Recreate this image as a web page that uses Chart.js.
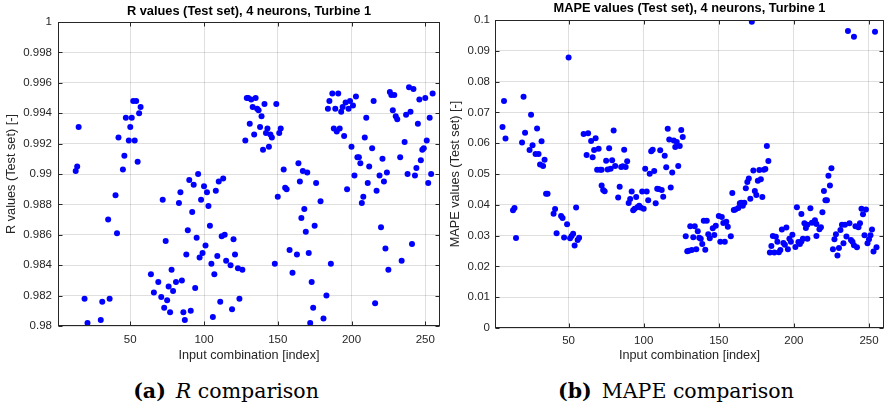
<!DOCTYPE html>
<html>
<head>
<meta charset="utf-8">
<script src="https://cdn.jsdelivr.net/npm/chart.js@4"></script>
<style>
  html, body { margin: 0; padding: 0; background: #fff; }
  #wrap { position: relative; width: 887px; height: 411px; background: #fff; overflow: hidden; }
  canvas { position: absolute; top: 0; }
  #cvR { left: 0; }
  #cvM { left: 443px; }
  .cap {
    position: absolute; top: 379px; line-height: 24px; white-space: nowrap;
    font-family: "DejaVu Serif", serif; font-size: 20.5px; color: #000;
    transform: translateX(-50%);
  }
  .cap b { font-weight: bold; margin-right: 10px; }
</style>
</head>
<body>
<div id="wrap">
  <canvas id="cvR" width="443" height="370"></canvas>
  <canvas id="cvM" width="444" height="370"></canvas>
  <div class="cap" style="left:226px"><b>(a)</b><i>R</i> comparison</div>
  <div class="cap" style="left:676px"><b>(b)</b>MAPE comparison</div>
</div>
<script>
// x ticks shared by both panels
const xTicks = [50, 100, 150, 200, 250];
const rTicks = [0.98, 0.982, 0.984, 0.986, 0.988, 0.99, 0.992, 0.994, 0.996, 0.998, 1];
const mapeTicks = [0, 0.01, 0.02, 0.03, 0.04, 0.05, 0.06, 0.07, 0.08, 0.09, 0.1];

// (a) R values, only points inside 0.98..1 are visible
const rIndex = [
  13, 14, 15, 19, 21, 30, 31, 35, 36, 40, 41, 42, 45, 46, 47, 49, 50, 51, 52, 53, 54, 55, 56, 57,
  64, 66, 69, 71, 72, 73, 74, 75, 76, 77, 78, 79, 81, 83, 84, 85, 86, 87, 88, 89, 90,
  91, 92, 93, 94, 95, 96, 97, 98, 99, 100, 101, 102, 103, 104, 105, 106, 107, 108, 109, 110,
  111, 112, 113, 114, 115, 118, 119, 120, 121, 123, 124, 126,
  128, 129, 130, 131, 132, 133, 134, 135, 136, 137, 138, 139, 140, 141, 142, 143, 144, 145, 146,
  148, 149, 150, 151, 152, 154, 155, 156, 158, 160, 163, 164, 165, 166, 167, 168, 169, 170,
  171, 172, 173, 174, 175, 176, 179, 181, 183,
  184, 185, 186, 187, 188, 189, 190, 191, 192, 193, 194, 195, 196, 197, 198, 199, 200,
  201, 202, 203, 204, 205, 206, 207, 208, 209, 210, 211, 212, 214, 215, 216, 217, 219, 220,
  221, 222, 223, 224, 225, 226, 227, 228, 229, 230, 231, 233, 234, 236, 237, 238, 239, 240,
  241, 242, 243, 244, 245, 246, 247, 248, 249, 250, 251, 252, 253, 254, 255
];
const rValue = [
  0.9902, 0.9905, 0.9931, 0.9818, 0.9802, 0.9804, 0.9816, 0.9870, 0.9818, 0.9886, 0.9861, 0.9924, 0.9903, 0.9912, 0.9937, 0.9922, 0.9931, 0.9937, 0.9948, 0.9922, 0.9948, 0.9908, 0.9940, 0.9944,
  0.9834, 0.9822, 0.9829, 0.9819, 0.9883, 0.9812, 0.9856, 0.9817, 0.9826, 0.9809, 0.9837, 0.9823, 0.9829, 0.9881, 0.9888, 0.9830, 0.9809, 0.9804, 0.9847, 0.9863, 0.9896,
  0.9810, 0.9875, 0.9893, 0.9825, 0.9858, 0.9900, 0.9845, 0.9883, 0.9848, 0.9892, 0.9853, 0.9888, 0.9879, 0.9866, 0.9841, 0.9806, 0.9834, 0.9889, 0.9846, 0.9895,
  0.9816, 0.9859, 0.9897, 0.9860, 0.9843, 0.9840, 0.9811, 0.9857, 0.9847, 0.9838, 0.9818, 0.9837,
  0.9922, 0.9950, 0.9950, 0.9933, 0.9949, 0.9944, 0.9926, 0.9950, 0.9943, 0.9942, 0.9931, 0.9938, 0.9916, 0.9946, 0.9927, 0.9930, 0.9918, 0.9926, 0.9924,
  0.9841, 0.9946, 0.9885, 0.9927, 0.9930, 0.9903, 0.9891, 0.9890, 0.9850, 0.9835, 0.9847, 0.9907, 0.9895, 0.9871, 0.9902, 0.9877, 0.9862, 0.9901,
  0.9848, 0.9802, 0.9829, 0.9812, 0.9866, 0.9894, 0.9882, 0.9805, 0.9820,
  0.9943, 0.9948, 0.9841, 0.9953, 0.9930, 0.9943, 0.9928, 0.9953, 0.9930, 0.9941, 0.9944, 0.9925, 0.9947, 0.9890, 0.9943, 0.9948, 0.9918,
  0.9945, 0.9899, 0.9951, 0.9911, 0.9911, 0.9907, 0.9881, 0.9885, 0.9924, 0.9937, 0.9894, 0.9905, 0.9917, 0.9948, 0.9815, 0.9889, 0.9899, 0.9865,
  0.9910, 0.9895, 0.9851, 0.9901, 0.9837, 0.9954, 0.9952, 0.9942, 0.9952, 0.9938, 0.9936, 0.9911, 0.9843, 0.9921, 0.9939, 0.9900, 0.9957, 0.9941,
  0.9854, 0.9956, 0.9899, 0.9904, 0.9933, 0.9949, 0.9909, 0.9916, 0.9917, 0.9950, 0.9922, 0.9894, 0.9937, 0.9900, 0.9953
];

// (b) MAPE values
const mapeIndex = [
  6, 7, 8, 13, 14, 15, 19, 20, 21, 24, 25, 26, 28, 29, 30, 31, 32, 33, 34, 35, 36,
  40, 41, 42, 45, 46, 47, 49, 50, 51, 52, 53, 54, 55, 56, 57,
  60, 62, 63, 65, 66, 67, 68, 69, 70, 71, 72, 72, 73, 74, 75, 76, 77, 78, 79, 80,
  81, 83, 84, 85, 86, 87, 88, 89, 90, 91, 92, 93, 94, 95, 96, 97, 98, 99, 100,
  101, 102, 103, 104, 105, 106, 107, 108, 109, 110, 111, 112, 113, 114, 115, 116, 117, 118, 119, 120,
  121, 122, 123, 124, 125, 126,
  128, 129, 130, 131, 132, 133, 134, 135, 136, 137, 138, 139, 140, 141, 142, 143, 144, 146, 147, 148,
  150, 151, 152, 153, 154, 155, 156, 158, 159, 160, 161, 163, 164, 165, 166, 167, 168, 169, 170,
  171, 172, 173, 174, 175, 176, 177, 178, 179, 180, 181, 182, 183,
  184, 185, 186, 187, 188, 189, 190, 191, 192, 193, 194, 195, 196, 197, 198, 199,
  201, 202, 203, 204, 205, 205, 206, 207, 208, 209, 209, 211, 212, 214, 215, 215, 217, 218, 219, 220,
  221, 222, 223, 224, 225,
  226, 227, 228, 229, 230, 231, 232, 233, 234, 235, 236, 237, 238, 239, 240, 240,
  241, 242, 243, 244, 245, 246, 247, 248, 249, 250, 251, 252, 253, 254, 255
];
const mapeValue = [
  0.0653, 0.0737, 0.0615, 0.0382, 0.0390, 0.0292, 0.0602, 0.0751, 0.0634, 0.0578, 0.0692, 0.0593, 0.0565, 0.0648, 0.0565, 0.0531, 0.0606, 0.0526, 0.0546, 0.0436, 0.0436,
  0.0371, 0.0386, 0.0308, 0.0364, 0.0357, 0.0294, 0.0337, 0.0878, 0.0291, 0.0299, 0.0306, 0.0268, 0.0391, 0.0286, 0.0293,
  0.0630, 0.0562, 0.0632, 0.0607, 0.0554, 0.0578, 0.0616, 0.0514, 0.0582, 0.0514, 0.0514, 0.0463, 0.0448, 0.0444, 0.0543, 0.0515, 0.0584, 0.0517, 0.0545, 0.0641,
  0.0526, 0.0424, 0.0459, 0.0523, 0.0525, 0.0579, 0.0523, 0.0541, 0.0406, 0.0419, 0.0443, 0.0382, 0.0387, 0.0425, 0.0393, 0.0397, 0.0391, 0.0443, 0.0387,
  0.0517, 0.0443, 0.0415, 0.0501, 0.0574, 0.0579, 0.0510, 0.0405, 0.0452, 0.0451, 0.0577, 0.0448, 0.0426, 0.0559, 0.0522, 0.0647, 0.0612, 0.0456, 0.0505, 0.0609,
  0.0588, 0.0604, 0.0526, 0.0591, 0.0643, 0.0620,
  0.0298, 0.0249, 0.0251, 0.0330, 0.0253, 0.0295, 0.0330, 0.0256, 0.0314, 0.0293, 0.0290, 0.0273, 0.0348, 0.0254, 0.0348, 0.0304, 0.0291, 0.0324, 0.0302, 0.0332,
  0.0364, 0.0280, 0.0360, 0.0341, 0.0280, 0.0345, 0.0329, 0.0298, 0.0438, 0.0383, 0.0385, 0.0390, 0.0405, 0.0407, 0.0397, 0.0407, 0.0454, 0.0474, 0.0485,
  0.0420, 0.0994, 0.0511, 0.0445, 0.0432, 0.0478, 0.0513, 0.0483, 0.0425, 0.0514, 0.0516, 0.0591, 0.0542,
  0.0245, 0.0266, 0.0299, 0.0245, 0.0296, 0.0280, 0.0246, 0.0253, 0.0320, 0.0276, 0.0270, 0.0326, 0.0256, 0.0290, 0.0280, 0.0303,
  0.0263, 0.0392, 0.0279, 0.0273, 0.0281, 0.0370, 0.0290, 0.0340, 0.0325, 0.0335, 0.0290, 0.0389, 0.0342, 0.0350, 0.0338, 0.0299, 0.0321, 0.0327, 0.0376, 0.0445,
  0.0415, 0.0415, 0.0494, 0.0463, 0.0519,
  0.0256, 0.0288, 0.0304, 0.0235, 0.0260, 0.0318, 0.0335, 0.0275, 0.0335, 0.0297, 0.0964, 0.0340, 0.0286, 0.0280, 0.0269, 0.0946,
  0.0330, 0.0262, 0.0327, 0.0340, 0.0387, 0.0369, 0.0301, 0.0385, 0.0275, 0.0288, 0.0301, 0.0320, 0.0248, 0.0962, 0.0262
];

const AXIS_COLOR = "#262626";
const GRID_COLOR = "rgba(38,38,38,0.15)";
const FONT = '"Liberation Sans", Arial, sans-serif';

// box around the axes, inward ticks on all four sides, bold title on top
const matlabAxes = {
  id: "matlabAxes",
  afterDraw(chart, args, opts) {
    const { ctx, chartArea: a, scales } = chart;
    const L = Math.round(a.left) + 0.5, R = Math.round(a.right) - 0.5;
    const T = Math.round(a.top) + 0.5, B = Math.round(a.bottom) - 0.5;
    ctx.save();
    ctx.strokeStyle = AXIS_COLOR;
    ctx.lineWidth = 1;
    ctx.beginPath();
    scales.x.ticks.forEach((t) => {
      const px = Math.round(scales.x.getPixelForValue(t.value)) + 0.5;
      ctx.moveTo(px, B); ctx.lineTo(px, B - 4);
      ctx.moveTo(px, T); ctx.lineTo(px, T + 4);
    });
    scales.y.ticks.forEach((t) => {
      const py = Math.round(scales.y.getPixelForValue(t.value)) + 0.5;
      ctx.moveTo(L, py); ctx.lineTo(L + 4, py);
      ctx.moveTo(R, py); ctx.lineTo(R - 4, py);
    });
    ctx.stroke();
    ctx.strokeRect(L, T, R - L, B - T);

    ctx.fillStyle = "#000";
    ctx.font = "bold 12.8px " + FONT;
    ctx.textAlign = "center";
    ctx.textBaseline = "middle";
    ctx.fillText(opts.text, (a.left + a.right) / 2, a.top - opts.gap);
    ctx.restore();
  },
};

function makeChart(id, cfg) {
  const points = cfg.xs.map((x, i) => ({ x, y: cfg.ys[i] }));
  return new Chart(document.getElementById(id), {
    type: "scatter",
    data: {
      datasets: [{
        data: points,
        pointRadius: 3,
        pointBackgroundColor: "#0000ff",
        pointBorderWidth: 0,
        pointHoverRadius: 3,
      }],
    },
    options: {
      responsive: false,
      animation: false,
      events: [],
      layout: { padding: { top: cfg.top, right: 1, bottom: 0, left: 0 } },
      plugins: {
        legend: { display: false },
        tooltip: { enabled: false },
        matlabAxes: { text: cfg.title, gap: cfg.titleGap },
      },
      scales: {
        x: {
          type: "linear",
          min: 1,
          max: 260,
          afterFit: (s) => { s.height = cfg.xHeight; },
          afterBuildTicks: (s) => { s.ticks = xTicks.map((v) => ({ value: v })); },
          grid: { color: GRID_COLOR, drawTicks: false },
          border: { display: false },
          ticks: { padding: cfg.xPad, color: AXIS_COLOR, font: { family: FONT, size: 11.5 } },
          title: {
            display: true,
            text: "Input combination [index]",
            color: AXIS_COLOR,
            font: { family: FONT, size: 12.7 },
            padding: { top: 0, bottom: 6.4 },
          },
        },
        y: {
          min: cfg.yTicks[0],
          max: cfg.yTicks[cfg.yTicks.length - 1],
          afterFit: (s) => { s.width = cfg.yWidth; },
          afterBuildTicks: (s) => { s.ticks = cfg.yTicks.map((v) => ({ value: v })); },
          grid: { color: GRID_COLOR, drawTicks: false },
          border: { display: false },
          ticks: {
            padding: cfg.yPad,
            color: AXIS_COLOR,
            font: { family: FONT, size: 11.5 },
            callback: (v) => String(+Number(v).toFixed(3)),
          },
          title: {
            display: true,
            text: cfg.yLabel,
            color: AXIS_COLOR,
            font: { family: FONT, size: 12.7 },
            padding: { top: cfg.yTitlePad, bottom: 0 },
          },
        },
      },
    },
    plugins: [matlabAxes],
  });
}

makeChart("cvR", {
  xs: rIndex, ys: rValue, yTicks: rTicks,
  title: "R values (Test set), 4 neurons, Turbine 1",
  yLabel: "R values (Test set) [-]",
  top: 22, titleGap: 10.5, xHeight: 44, xPad: 7, yWidth: 58, yPad: 6, yTitlePad: 4,
});

makeChart("cvM", {
  xs: mapeIndex, ys: mapeValue, yTicks: mapeTicks,
  title: "MAPE values (Test set), 4 neurons, Turbine 1",
  yLabel: "MAPE values (Test set) [-]",
  top: 20, titleGap: 11.3, xHeight: 42, xPad: 6, yWidth: 52, yPad: 5, yTitlePad: 5,
});
</script>
</body>
</html>
